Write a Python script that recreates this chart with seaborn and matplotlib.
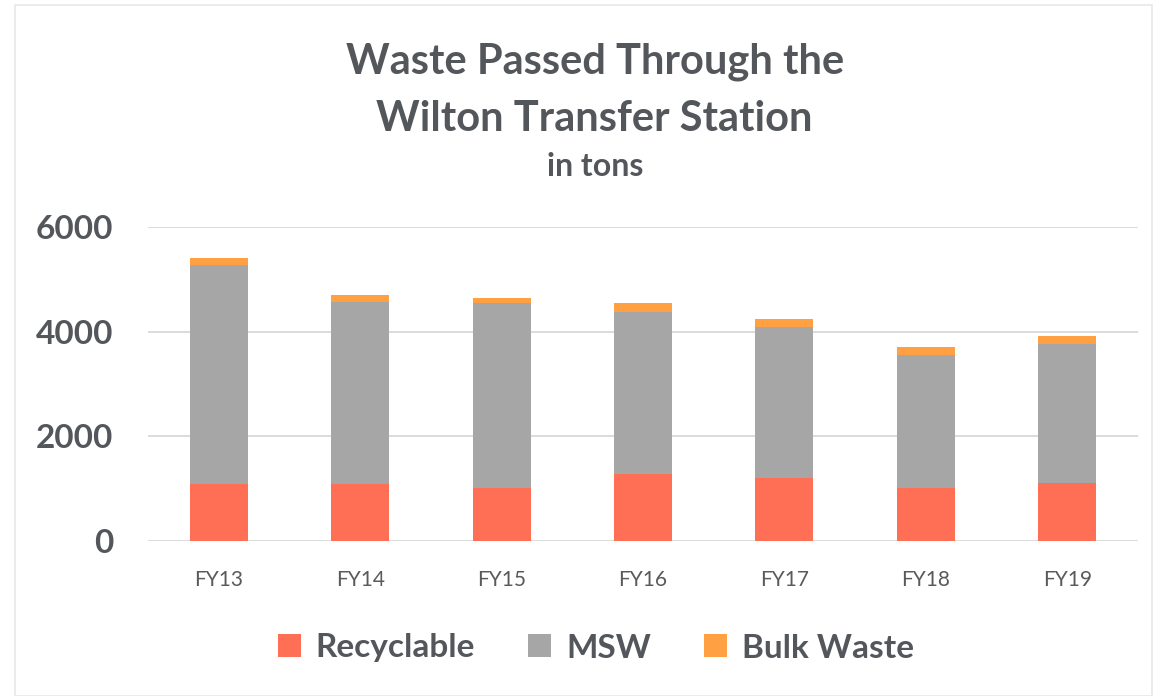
import matplotlib
matplotlib.use("Agg")
import matplotlib.pyplot as plt
from matplotlib.patches import Patch, Rectangle
import seaborn as sns
import pandas as pd

# values (tons)
years = ["FY13", "FY14", "FY15", "FY16", "FY17", "FY18", "FY19"]
recyclable = [1090, 1090, 1020, 1280, 1200, 1020, 1100]
msw = [4180, 3480, 3530, 3100, 2890, 2530, 2660]
bulk = [130, 130, 100, 160, 150, 150, 160]

series = ["Recyclable", "MSW", "Bulk Waste"]
colors = {"Recyclable": "#FF6F55", "MSW": "#A6A6A6", "Bulk Waste": "#FFA042"}
text_color = "#53575B"

sns.set_theme(style="white")
plt.rcParams["font.family"] = ["Lato", "DejaVu Sans"]

df = pd.DataFrame({"year": years, "Recyclable": recyclable, "MSW": msw, "Bulk Waste": bulk})
# cumulative heights so stacked segments can be drawn back to front
df["top_msw"] = df["Recyclable"] + df["MSW"]
df["top_bulk"] = df["top_msw"] + df["Bulk Waste"]

fig = plt.figure(figsize=(11.57, 6.96), dpi=100)
ax = fig.add_axes([148 / 1157, 1 - 541 / 696, 990 / 1157, 314 / 696])

for col, name in [("top_bulk", "Bulk Waste"), ("top_msw", "MSW"), ("Recyclable", "Recyclable")]:
    sns.barplot(data=df, x="year", y=col, color=colors[name], width=0.41,
                saturation=1, linewidth=0, ax=ax, zorder=3)

ax.set_ylim(0, 6000)
ax.set_xlim(-0.5, 6.5)
ax.set_yticks([0, 2000, 4000, 6000])
ax.set_xlabel("")
ax.set_ylabel("")
for s in ax.spines.values():
    s.set_visible(False)
ax.grid(axis="y", color="#D9D9D9", linewidth=1.3, zorder=0)
ax.grid(axis="x", visible=False)
ax.tick_params(axis="y", length=0, pad=25, labelsize=24, labelcolor=text_color)
ax.tick_params(axis="x", length=0, pad=21, labelsize=15, labelcolor="#5A5A5A")
for lbl in ax.get_yticklabels():
    lbl.set_fontweight("bold")

fig.text(0.514, 1 - 62 / 696, "Waste Passed Through the", ha="center", va="center",
         fontsize=30, fontweight="bold", color=text_color)
fig.text(0.514, 1 - 119 / 696, "Wilton Transfer Station", ha="center", va="center",
         fontsize=30, fontweight="bold", color=text_color)
fig.text(0.514, 1 - 167 / 696, "in tons", ha="center", va="center",
         fontsize=23, fontweight="bold", color=text_color)

handles = [Patch(facecolor=colors[n], edgecolor="none", label=n) for n in series]
leg = fig.legend(handles=handles, loc="center", bbox_to_anchor=(0.515, 1 - 648 / 696),
                 ncol=3, frameon=False, handlelength=0.68, handleheight=0.68,
                 handletextpad=0.45, columnspacing=1.6,
                 prop={"size": 24, "weight": "bold"})
for t in leg.get_texts():
    t.set_color(text_color)

# faint chart border
fig.patches.append(Rectangle((15 / 1157, 0.0), 1 - 20 / 1157, 1 - 5 / 696,
                             transform=fig.transFigure, fill=False,
                             edgecolor="#E8E8E8", linewidth=1.2))

fig.savefig("out.png", dpi=100)
